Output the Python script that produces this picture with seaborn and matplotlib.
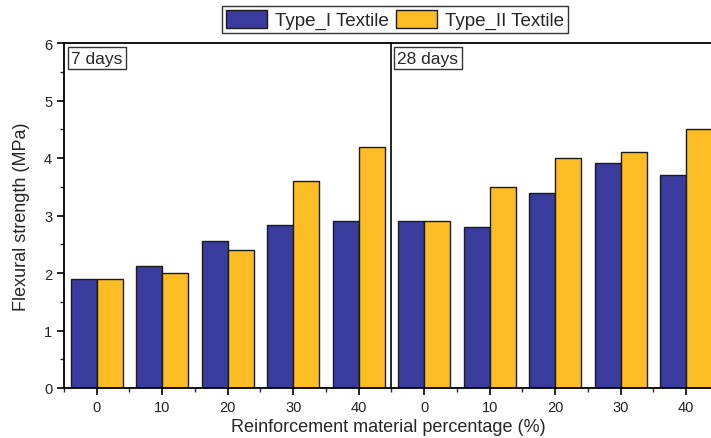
import matplotlib
matplotlib.use("Agg")
import matplotlib.pyplot as plt
from matplotlib.ticker import MultipleLocator, FixedLocator
from matplotlib.patches import Patch
import seaborn as sns
import pandas as pd

ages = ["7 days", "28 days"]
percentages = [0, 10, 20, 30, 40]
type1_7d = [1.90, 2.13, 2.55, 2.83, 2.90]
type2_7d = [1.90, 2.00, 2.40, 3.60, 4.20]
type1_28d = [2.90, 2.80, 3.40, 3.92, 3.70]
type2_28d = [2.90, 3.50, 4.00, 4.10, 4.50]
series = ["Type_I Textile", "Type_II Textile"]
colors = ["#393c9c", "#fbbd23"]

rows = []
for age, v1, v2 in [(ages[0], type1_7d, type2_7d), (ages[1], type1_28d, type2_28d)]:
    for p, a, b in zip(percentages, v1, v2):
        key = f"{age}|{p}"
        rows.append({"group": key, "series": series[0], "value": a})
        rows.append({"group": key, "series": series[1], "value": b})
df = pd.DataFrame(rows)
order = [f"{age}|{p}" for age in ages for p in percentages]

sns.set_style("ticks")
plt.rcParams["font.family"] = ["Liberation Sans", "DejaVu Sans"]

fig = plt.figure(figsize=(7.11, 4.39), dpi=100)
ax = fig.add_axes([64 / 711, 1 - 389 / 439, 1 - 64 / 711 + 0.002, (389 - 44) / 439])

sns.barplot(data=df, x="group", y="value", hue="series", order=order,
            hue_order=series, palette=colors, width=0.8,
            edgecolor="#1a1a1a", linewidth=1.0, saturation=1, ax=ax,
            legend=False)

ax.set_ylim(0, 6)
ax.set_xlim(-0.5, 9.4)
ax.yaxis.set_major_locator(MultipleLocator(1))
ax.yaxis.set_minor_locator(MultipleLocator(0.5))
ax.xaxis.set_minor_locator(FixedLocator([i + 0.5 for i in range(-1, 10)]))
ax.set_xticks(range(len(order)))
ax.set_xticklabels([str(p) for _ in ages for p in percentages])

ax.tick_params(axis="both", which="major", direction="out", length=5, width=1.2,
               labelsize=10.5, color="black", labelcolor="#222222")
ax.tick_params(axis="both", which="minor", direction="out", length=3, width=1.0)

for side in ["left", "bottom", "top"]:
    ax.spines[side].set_linewidth(1.3)
    ax.spines[side].set_color("black")
ax.spines["right"].set_visible(False)

# separator between the two curing ages
ax.axvline(4.5, color="black", lw=1.2)

ax.set_xlabel("Reinforcement material percentage (%)", fontsize=13, labelpad=3)
ax.set_ylabel("Flexural strength (MPa)", fontsize=13, labelpad=10)

box = dict(boxstyle="square,pad=0.2", facecolor="white", edgecolor="#333333", lw=1.0)
ax.text(0.011, 0.978, ages[0], transform=ax.transAxes, fontsize=12.5, va="top",
        ha="left", bbox=box)
ax.text(0.514, 0.978, ages[1], transform=ax.transAxes, fontsize=12.5, va="top",
        ha="left", bbox=box)

handles = [Patch(facecolor=c, edgecolor="#1a1a1a", lw=1.0) for c in colors]
fig.legend(handles, series, loc="center", bbox_to_anchor=(395 / 711, 1 - 20.5 / 439),
           ncol=2, frameon=True, fancybox=False, edgecolor="black", fontsize=13.5,
           handlelength=2.2, handleheight=1.1, columnspacing=0.4, handletextpad=0.4,
           borderpad=0.2, borderaxespad=0)

fig.savefig("out.png", dpi=100)
